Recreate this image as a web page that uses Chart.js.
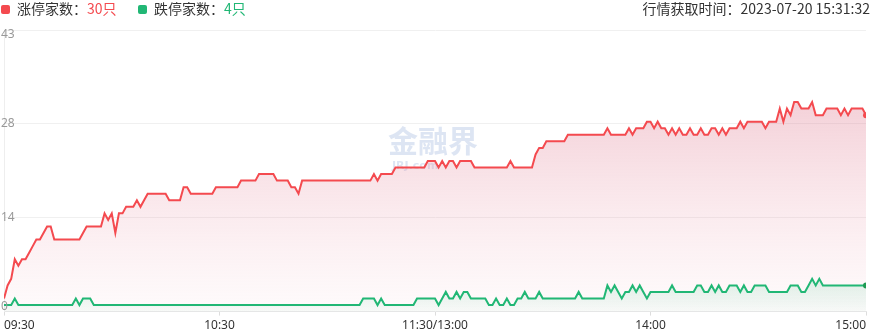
<!DOCTYPE html>
<html>
<head>
<meta charset="utf-8">
<title>涨跌停家数</title>
<script src="https://cdn.jsdelivr.net/npm/chart.js@4.4.0/dist/chart.umd.min.js"></script>
<style>
    html, body { margin: 0; padding: 0; background: #ffffff; }
    .wrap { position: relative; width: 870px; height: 333px; overflow: hidden; font-family: "Noto Sans CJK SC", "Noto Sans", sans-serif; }
    .head { position: absolute; left: 0; top: 0; width: 870px; height: 18px; font-size: 14px; line-height: 16px; color: #333333; z-index: 2; }
    .item { position: absolute; top: 0; white-space: nowrap; }
    .dot { display: inline-block; width: 9px; height: 9px; border-radius: 2px; margin-right: 7px; vertical-align: 0px; }
    .up { color: #f44a4f; }
    .down { color: #21b775; }
    .time { position: absolute; right: 0; top: 0; white-space: nowrap; }
    canvas { position: absolute; left: 0; top: 0; }
</style>
</head>
<body>
<div class="wrap">
    <div class="head">
        <div class="item" style="left:1px"><span class="dot" style="background:#f44a4f"></span>涨停家数：<span class="up">30只</span></div>
        <div class="item" style="left:138px"><span class="dot" style="background:#21b775"></span>跌停家数：<span class="down">4只</span></div>
        <div class="time">行情获取时间：2023-07-20 15:31:32</div>
    </div>
    <canvas id="limitChart" width="870" height="333"></canvas>
</div>
<script>
// Limit-up / limit-down counts, one value per trading minute (09:30 .. 11:30/13:00 .. 15:00).

const limitUpCounts = [
    2, 4, 5, 8, 7, 8, 8, 9, 10, 11,
    11, 12, 13, 13, 11, 11, 11, 11, 11, 11,
    11, 11, 12, 13, 13, 13, 13, 13, 15, 14,
    15, 12, 15, 15, 16, 16, 16, 17, 16, 17,
    18, 18, 18, 18, 18, 18, 17, 17, 17, 17,
    19, 19, 18, 18, 18, 18, 18, 18, 18, 19,
    19, 19, 19, 19, 19, 19, 20, 20, 20, 20,
    20, 21, 21, 21, 21, 21, 20, 20, 20, 20,
    19, 19, 18, 20, 20, 20, 20, 20, 20, 20,
    20, 20, 20, 20, 20, 20, 20, 20, 20, 20,
    20, 20, 20, 21, 20, 21, 21, 21, 21, 22,
    22, 22, 22, 22, 22, 22, 22, 22, 23, 23,
    23, 22, 23, 22, 23, 23, 22, 23, 23, 23,
    23, 22, 22, 22, 22, 22, 22, 22, 22, 22,
    22, 23, 22, 22, 22, 22, 22, 22, 24, 25,
    25, 26, 26, 26, 26, 26, 26, 27, 27, 27,
    27, 27, 27, 27, 27, 27, 27, 27, 28, 27,
    27, 27, 27, 27, 28, 27, 28, 28, 28, 29,
    29, 28, 29, 28, 28, 27, 28, 27, 28, 27,
    27, 28, 27, 27, 28, 27, 27, 28, 28, 27,
    28, 27, 28, 28, 28, 29, 28, 29, 29, 29,
    29, 29, 28, 29, 29, 29, 31, 29, 31, 30,
    32, 32, 31, 31, 31, 32, 30, 30, 30, 31,
    31, 31, 31, 30, 31, 30, 31, 31, 31, 31,
    30
];

const limitDownCounts = [
    1, 1, 1, 2, 1, 1, 1, 1, 1, 1,
    1, 1, 1, 1, 1, 1, 1, 1, 1, 1,
    2, 1, 2, 2, 2, 1, 1, 1, 1, 1,
    1, 1, 1, 1, 1, 1, 1, 1, 1, 1,
    1, 1, 1, 1, 1, 1, 1, 1, 1, 1,
    1, 1, 1, 1, 1, 1, 1, 1, 1, 1,
    1, 1, 1, 1, 1, 1, 1, 1, 1, 1,
    1, 1, 1, 1, 1, 1, 1, 1, 1, 1,
    1, 1, 1, 1, 1, 1, 1, 1, 1, 1,
    1, 1, 1, 1, 1, 1, 1, 1, 1, 1,
    2, 2, 2, 2, 1, 2, 1, 1, 1, 1,
    1, 1, 1, 1, 1, 2, 2, 2, 2, 2,
    2, 1, 2, 3, 2, 2, 3, 2, 3, 3,
    2, 2, 2, 2, 2, 1, 1, 2, 1, 1,
    2, 1, 1, 2, 2, 3, 2, 2, 2, 3,
    2, 2, 2, 2, 2, 2, 2, 2, 2, 2,
    3, 2, 2, 2, 2, 2, 2, 2, 4, 3,
    4, 3, 2, 3, 3, 4, 3, 4, 3, 2,
    3, 3, 3, 3, 3, 3, 4, 3, 3, 3,
    3, 3, 3, 4, 4, 3, 3, 4, 3, 4,
    3, 3, 4, 4, 4, 3, 4, 3, 3, 4,
    4, 4, 4, 3, 3, 3, 3, 3, 3, 4,
    4, 4, 3, 3, 4, 5, 4, 5, 4, 4,
    4, 4, 4, 4, 4, 4, 4, 4, 4, 4,
    4
];

// minute index of each x tick and its text
const xTickPositions = [0, 60, 120, 180, 240];
const xTickLabels = ['09:30', '10:30', '11:30/13:00', '14:00', '15:00'];

// y axis is split in three equal parts up to 43; labels are the floored values
const yMax = 43;
const yTickValues = [0, 43 / 3, 86 / 3, 43];
const yTickLabels = ['0', '14', '28', '43'];

const minuteIndex = limitUpCounts.map((_, i) => i);
const lastIndex = limitUpCounts.length - 1;

function makeGradient(context, topColor, bottomColor) {
    const area = context.chart.chartArea;
    if (!area) {
        return topColor;
    }
    const g = context.chart.ctx.createLinearGradient(0, area.top + 60, 0, area.bottom);
    g.addColorStop(0, topColor);
    g.addColorStop(1, bottomColor);
    return g;
}

function greenGradient(context) {
    const chart = context.chart;
    const area = chart.chartArea;
    if (!area) {
        return 'rgba(33,183,117,0.12)';
    }
    const top = chart.scales.y.getPixelForValue(5);
    const g = chart.ctx.createLinearGradient(0, top, 0, area.bottom);
    g.addColorStop(0, 'rgba(33,183,117,0.14)');
    g.addColorStop(1, 'rgba(33,183,117,0.03)');
    return g;
}

const watermarkPlugin = {
    id: 'watermark',
    beforeDatasetsDraw(chart) {
        const ctx = chart.ctx;
        ctx.save();
        ctx.fillStyle = 'rgba(206,218,238,0.7)';
        ctx.textAlign = 'left';
        ctx.textBaseline = 'top';
        ctx.font = 'bold 30px "Noto Sans CJK SC", sans-serif';
        ctx.fillText('金融界', 388, 126);
        ctx.font = 'bold 11px "DejaVu Sans", sans-serif';
        ctx.fillText('JRJ.com', 392, 161);
        ctx.restore();
    }
};

const yLabelPlugin = {
    id: 'yLabels',
    afterDatasetsDraw(chart) {
        const ctx = chart.ctx;
        const yScale = chart.scales.y;
        const last = yTickValues.length - 1;
        ctx.save();
        ctx.fillStyle = '#999999';
        ctx.font = '12px "Noto Sans", sans-serif';
        ctx.textAlign = 'left';
        yTickValues.forEach((value, i) => {
            const y = yScale.getPixelForValue(value);
            if (i === 0) {
                ctx.textBaseline = 'bottom';
                ctx.fillText(yTickLabels[i], 1, y + 1);
            } else if (i === last) {
                ctx.textBaseline = 'top';
                ctx.fillText(yTickLabels[i], 1, y - 1);
            } else {
                ctx.textBaseline = 'middle';
                ctx.fillText(yTickLabels[i], 1, y);
            }
        });
        ctx.restore();
    }
};

const lastPointRadius = (ctx) => (ctx.dataIndex === lastIndex ? 3 : 0);

new Chart(document.getElementById('limitChart'), {
    type: 'line',
    data: {
        labels: minuteIndex,
        datasets: [
            {
                label: '跌停家数',
                data: limitDownCounts,
                borderColor: '#21b775',
                borderWidth: 2,
                backgroundColor: greenGradient,
                fill: 'origin',
                tension: 0,
                pointRadius: lastPointRadius,
                pointBackgroundColor: '#1f9a52',
                pointBorderWidth: 0,
                order: 1
            },
            {
                label: '涨停家数',
                data: limitUpCounts,
                borderColor: '#f44a4f',
                borderWidth: 2,
                backgroundColor: (context) => makeGradient(context, 'rgba(222,118,140,0.36)', 'rgba(240,170,185,0.05)'),
                fill: 'origin',
                tension: 0,
                pointRadius: lastPointRadius,
                pointBackgroundColor: '#f44a4f',
                pointBorderWidth: 0,
                order: 2
            }
        ]
    },
    options: {
        responsive: false,
        animation: false,
        devicePixelRatio: 1,
        layout: {
            padding: { left: 2, right: 0, top: 30, bottom: -3 }
        },
        plugins: {
            legend: { display: false },
            tooltip: { enabled: false }
        },
        scales: {
            x: {
                type: 'linear',
                min: 0,
                max: lastIndex,
                afterBuildTicks(scale) {
                    scale.ticks = xTickPositions.map((value) => ({ value }));
                },
                ticks: {
                    autoSkip: false,
                    maxRotation: 0,
                    align: 'inner',
                    padding: 3,
                    color: '#333333',
                    font: { size: 12, family: '"Noto Sans", sans-serif' },
                    callback: (value) => xTickLabels[xTickPositions.indexOf(value)]
                },
                grid: {
                    drawOnChartArea: false,
                    drawTicks: true,
                    tickLength: 4,
                    color: '#dddddd'
                },
                border: { color: '#e6e6e6' }
            },
            y: {
                min: 0,
                max: yMax,
                afterBuildTicks(scale) {
                    scale.ticks = yTickValues.map((value) => ({ value }));
                },
                ticks: { display: false },
                grid: {
                    drawTicks: false,
                    color: '#f0f0f0'
                },
                border: { color: '#eeeeee' }
            }
        }
    },
    plugins: [watermarkPlugin, yLabelPlugin]
});
</script>
</body>
</html>
